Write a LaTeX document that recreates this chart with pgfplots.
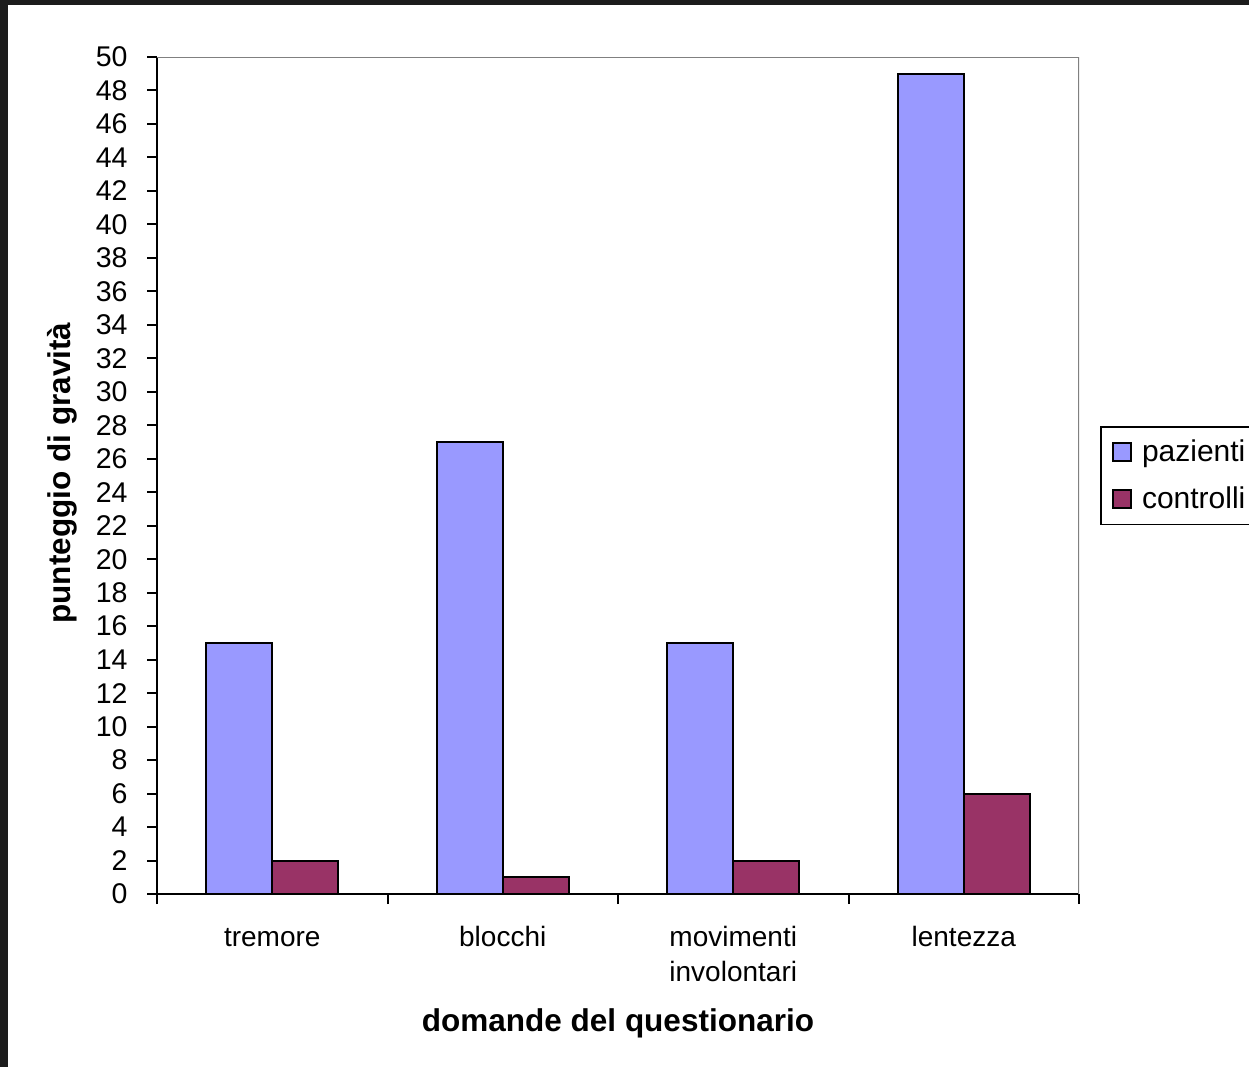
\documentclass[border=0pt]{standalone}
\usepackage{fontspec}
\setmainfont{Liberation Sans}
\usepackage{pgfplots}
\pgfplotsset{compat=1.18}
\definecolor{pazcol}{HTML}{9999FF}
\definecolor{concol}{HTML}{993366}
\definecolor{framedark}{HTML}{1C1C1C}
\definecolor{framegray}{HTML}{808080}

\begin{document}
\begin{tikzpicture}
\clip (0,0) rectangle (499.6pt,426.8pt);
\fill[framedark] (0,0) rectangle (499.6pt,426.8pt);
\fill[white] (3.2pt,0) rectangle (499.6pt,424.8pt);
\begin{axis}[
  at={(62.8pt,69.2pt)}, anchor=south west,
  scale only axis, width=368.8pt, height=334.8pt,
  ybar=0pt, bar width=26.4pt,
  xmin=-0.5, xmax=3.5, ymin=0, ymax=50,
  axis x line*=bottom, axis y line*=left,
  axis line style={black, line width=0.8pt, -},
  ytick={0,2,...,50},
  tick align=outside,
  major tick length=4pt,
  minor tick length=4pt,
  tick style={black, line width=0.8pt},
  major x tick style={draw=none},
  xtick={0,1,2,3},
  % every label has two lines so that the base anchor is the same for all
  xticklabels={tremore\\{}, blocchi\\{}, movimenti\\involontari, lentezza\\{}},
  minor xtick={-0.5,0.5,1.5,2.5,3.5},
  /pgf/number format/assume math mode=true,
  yticklabel style={font=\fontsize{11.4}{14}\selectfont, inner sep=0pt, xshift=-7.6pt},
  xticklabel style={font=\fontsize{11.2}{14}\selectfont, align=center, anchor=base, inner sep=0pt, yshift=-30.8pt},
  xlabel={domande del questionario},
  ylabel={punteggio di gravità},
  xlabel style={font=\bfseries\fontsize{12.6}{15}\selectfont, at={(axis description cs:0.5,0)}, anchor=center, yshift=-51.6pt},
  ylabel style={font=\bfseries\fontsize{12.6}{15}\selectfont, at={(axis description cs:-0.103,0.503)}, anchor=center},
  legend style={at={([xshift=8.4pt]1,0.5)}, anchor=west, draw=black, line width=0.6pt,
    font=\fontsize{12}{14}\selectfont, row sep=4.6pt, inner xsep=4.6pt, inner ysep=3pt,
    cells={anchor=west}},
]
\draw[framegray, line width=0.8pt] (rel axis cs:0,1) -- (rel axis cs:1,1) -- (rel axis cs:1,0);
\addplot[fill=pazcol, draw=black, line width=0.8pt,
  legend image code/.code={\draw[fill=pazcol, draw=black, line width=0.6pt] (0pt,-3.6pt) rectangle (7.2pt,3.6pt); \path (9.2pt,0pt);}]
  coordinates {(0,15) (1,27) (2,15) (3,49)};
\addplot[fill=concol, draw=black, line width=0.8pt,
  legend image code/.code={\draw[fill=concol, draw=black, line width=0.6pt] (0pt,-3.6pt) rectangle (7.2pt,3.6pt); \path (9.2pt,0pt);}]
  coordinates {(0,2) (1,1) (2,2) (3,6)};
\legend{pazienti, controlli}
\end{axis}
\end{tikzpicture}
\end{document}
